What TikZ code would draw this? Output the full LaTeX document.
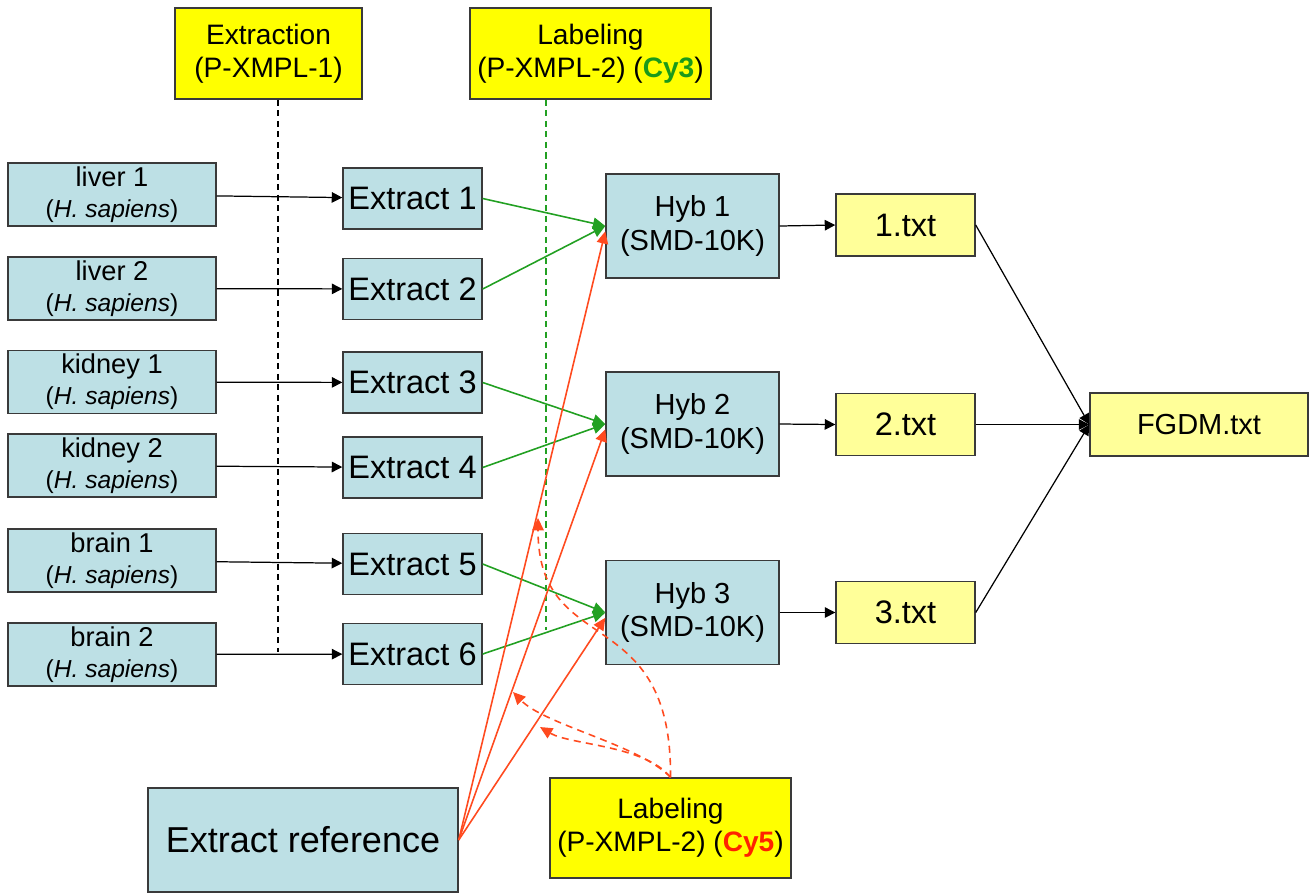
\documentclass[tikz,border=0pt]{standalone}
\usepackage{fontspec}
\setmainfont{Liberation Sans}
\usetikzlibrary{arrows.meta}
\definecolor{boxblue}{HTML}{BDE0E5}
\definecolor{ybright}{HTML}{FFFF00}
\definecolor{ylight}{HTML}{FFFF99}
\definecolor{edgegray}{HTML}{3A3A3A}
\definecolor{lgreen}{HTML}{22A022}
\definecolor{lred}{HTML}{FF4A1F}
\definecolor{cygreen}{HTML}{1A9A1A}
\definecolor{cyred}{HTML}{FF2200}
\begin{document}
\begin{tikzpicture}[x=0.02cm,y=-0.02cm,
  bx/.style 2 args={draw=edgegray, line width=0.8pt, inner sep=0pt, minimum width=#1*0.02cm, minimum height=#2*0.02cm, align=center},
  sample/.style={bx={208}{63}, fill=boxblue, font=\fontsize{15.5}{17.5}\selectfont},
  extr/.style={bx={139}{61}, fill=boxblue, font=\fontsize{18.5}{20}\selectfont},
  hyb/.style={bx={173}{104}, fill=boxblue, font=\fontsize{16.5}{19}\selectfont},
  txtbox/.style={bx={139}{62}, fill=ylight, font=\fontsize{18.5}{20}\selectfont},
  topbox/.style={bx={#1}{91}, fill=ybright, font=\fontsize{16}{19}\selectfont},
  blkarr/.style={draw=black, line width=0.7pt, -{Triangle[length=6pt,width=6pt]}},
  grnarr/.style={draw=lgreen, line width=0.9pt, -{Triangle[length=7pt,width=6.5pt]}},
  redarr/.style={draw=lred, line width=0.9pt, -{Triangle[length=7pt,width=6.5pt]}},
  reddash/.style={draw=lred, line width=0.9pt, dash pattern=on 4pt off 3pt, -{Triangle[length=7pt,width=6.5pt]}},
  blkdash/.style={draw=black, line width=0.6pt, dash pattern=on 3.5pt off 2.5pt},
  grndash/.style={draw=lgreen, line width=0.6pt, dash pattern=on 3.5pt off 2.5pt}
]
\useasboundingbox (0,0) rectangle (1310,894);

% top labels
\node[topbox=187] (extraction) at (268.5,53.5) {Extraction\\(P-XMPL-1)};
\node[topbox=241] (cy3) at (590.5,53.5) {Labeling\\(P-XMPL-2) (\textbf{\textcolor{cygreen}{Cy3}})};

% dashed vertical guides
\coordinate (bend) at (278,652);
\coordinate (gend) at (546,630);
\draw[blkdash] (extraction.south -| bend) -- (bend);
\draw[grndash] (cy3.south -| gend) -- (gend);

% samples
\node[sample] (s1) at (112,194.5) {liver 1\\{\fontsize{14}{17.5}\selectfont(\textit{H. sapiens})}};
\node[sample] (s2) at (112,288.5) {liver 2\\{\fontsize{14}{17.5}\selectfont(\textit{H. sapiens})}};
\node[sample] (s3) at (112,382) {kidney 1\\{\fontsize{14}{17.5}\selectfont(\textit{H. sapiens})}};
\node[sample] (s4) at (112,465.5) {kidney 2\\{\fontsize{14}{17.5}\selectfont(\textit{H. sapiens})}};
\node[sample] (s5) at (112,560.5) {brain 1\\{\fontsize{14}{17.5}\selectfont(\textit{H. sapiens})}};
\node[sample] (s6) at (112,654.5) {brain 2\\{\fontsize{14}{17.5}\selectfont(\textit{H. sapiens})}};

% extracts
\node[extr] (e1) at (412.5,198.5) {Extract 1};
\node[extr] (e2) at (412.5,289) {Extract 2};
\node[extr] (e3) at (412.5,382.5) {Extract 3};
\node[extr] (e4) at (412.5,467.5) {Extract 4};
\node[extr] (e5) at (412.5,564) {Extract 5};
\node[extr] (e6) at (412.5,654) {Extract 6};

% hybs
\node[hyb] (h1) at (692.5,226) {Hyb 1\\(SMD-10K)};
\node[hyb] (h2) at (692.5,424) {Hyb 2\\(SMD-10K)};
\node[hyb] (h3) at (692.5,612.5) {Hyb 3\\(SMD-10K)};

% txt files
\node[txtbox] (t1) at (905.5,225) {1.txt};
\node[txtbox] (t2) at (905.5,424.5) {2.txt};
\node[txtbox] (t3) at (905.5,612.5) {3.txt};
\node[bx={218}{63}, fill=ylight, font=\fontsize{16.5}{19}\selectfont] (fgdm) at (1199,424.5) {FGDM.txt};

% reference and Cy5 labeling
\node[bx={310}{104}, fill=boxblue, font=\fontsize{20.5}{24}\selectfont] (ref) at (303,840) {Extract reference};
\node[bx={241}{100}, fill=ybright, font=\fontsize{16}{19}\selectfont] (cy5) at (670.5,828) {Labeling\\(P-XMPL-2) (\textbf{\textcolor{cyred}{Cy5}})};

% sample -> extract
\draw[blkarr] (s1) -- (e1);
\draw[blkarr] (s2) -- (e2);
\draw[blkarr] (s3) -- (e3);
\draw[blkarr] (s4) -- (e4);
\draw[blkarr] (s5) -- (e5);
\draw[blkarr] (s6) -- (e6);

% extract -> hyb
\draw[grnarr] (e1.east) -- (h1.west);
\draw[grnarr] (e2.east) -- (h1.west);
\draw[grnarr] (e3.east) -- (h2.west);
\draw[grnarr] (e4.east) -- (h2.west);
\draw[grnarr] (e5.east) -- (h3.west);
\draw[grnarr] (e6.east) -- (h3.west);

% reference -> hyb
\draw[redarr] (ref.east) -- ([yshift=-3pt]h1.west);
\draw[redarr] (ref.east) -- ([yshift=-3pt]h2.west);
\draw[redarr] (ref.east) -- ([yshift=-3pt]h3.west);

% hyb -> txt -> FGDM
\draw[blkarr] (h1.east) -- (t1.west);
\draw[blkarr] (h2.east) -- (t2.west);
\draw[blkarr] (h3.east) -- (t3.west);
\draw[blkarr] (t1.east) -- (fgdm.west);
\draw[blkarr] (t2.east) -- (fgdm.west);
\draw[blkarr] (t3.east) -- (fgdm.west);

% Cy5 labeling dashed curves
\coordinate (ca) at (538,518);
\coordinate (cb) at (513,692);
\coordinate (cc) at (540,727);
\draw[reddash] (cy5.north) .. controls (672,600) and (538,660) .. (ca);
\draw[reddash] (cy5.north) .. controls (640,745) and (545,725) .. (cb);
\draw[reddash] (cy5.north) .. controls (645,745) and (570,745) .. (cc);
\end{tikzpicture}
\end{document}
